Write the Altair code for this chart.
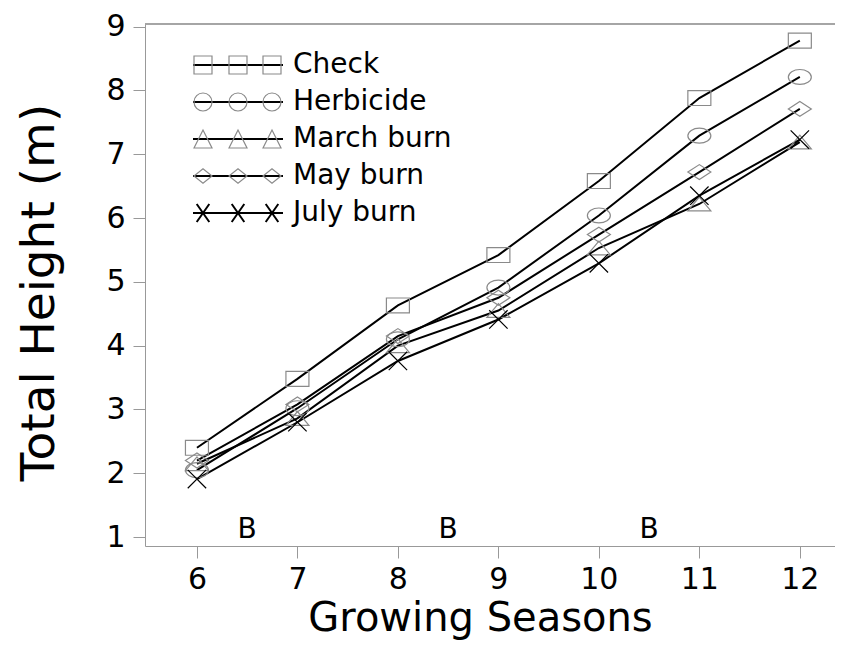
import altair as alt
import pandas as pd

# ---- data ----
seasons = [6, 7, 8, 9, 10, 11, 12]
series_names = ["Check", "Herbicide", "March burn", "May burn", "July burn"]
check = [2.40, 3.48, 4.63, 5.42, 6.58, 7.88, 8.78]
herbicide = [2.05, 3.02, 4.10, 4.91, 6.04, 7.29, 8.21]
march_burn = [2.15, 2.86, 4.00, 4.55, 5.53, 6.22, 7.19]
may_burn = [2.20, 3.08, 4.15, 4.75, 5.74, 6.72, 7.71]
july_burn = [1.91, 2.80, 3.76, 4.41, 5.29, 6.35, 7.23]
b_x = [6.5, 8.5, 10.5]
b_y = [1.11, 1.11, 1.11]
b_labels = ["B", "B", "B"]
y_ticks = [1, 1.5, 2, 2.5, 3, 3.5, 4, 4.5, 5, 5.5, 6, 6.5, 7, 7.5, 8, 8.5, 9]

values = [check, herbicide, march_burn, may_burn, july_burn]
rows = []
for name, vals in zip(series_names, values):
    for s, v in zip(seasons, vals):
        rows.append({"season": s, "height": v, "series": name})
df = pd.DataFrame(rows)
df_b = pd.DataFrame({"x": b_x, "y": b_y, "label": b_labels})

# ---- styling ----
FONT = "DejaVu Sans"
W, H = 690, 522
GREY = "#8a8a8a"

plot_shapes = [
    "M-1,-0.65L1,-0.65L1,0.65L-1,0.65Z",
    "M-1,0A1,0.65,0,1,1,1,0A1,0.65,0,1,1,-1,0Z",
    "M-1,0.6L0,-0.6L1,0.6Z",
    "M-1,0L0,-0.65L1,0L0,0.65Z",
    "M-0.8,-0.8L0.8,0.8M-0.8,0.8L0.8,-0.8",
]
legend_shapes = [
    "M-1,-1L1,-1L1,1L-1,1Z",
    "M-1,0A1,1,0,1,1,1,0A1,1,0,1,1,-1,0Z",
    "M-1,1L0,-1L1,1Z",
    "M-1,0L0,-0.8L1,0L0,0.8Z",
    "M-0.7,-1L0.7,1M-0.7,1L0.7,-1",
]
stroke_cols = [GREY, GREY, GREY, GREY, "black"]
stroke_ws = [1.2, 1.2, 1.2, 1.2, 2]

xscale = alt.Scale(domain=[5.483, 12.35], nice=False, zero=False)
yscale = alt.Scale(domain=[0.861, 9.04], nice=False, zero=False)

x_enc = alt.X(
    "season:Q", scale=xscale,
    axis=alt.Axis(values=seasons, format="d", title="Growing Seasons", tickSize=12,
                  labelPadding=6, titlePadding=4, labelFontSize=30,
                  titleFontSize=40, titleX=335),
)
y_enc = alt.Y(
    "height:Q", scale=yscale,
    axis=alt.Axis(values=y_ticks, format="d", title="Total Height (m)",
                  labelExpr="datum.value % 1 == 0 ? datum.label : ''",
                  tickSize={"condition": {"test": "datum.value % 1 != 0", "value": 8}, "value": 12},
                  labelPadding=8, titlePadding=42, labelFontSize=30,
                  titleFontSize=47, titleY=268),
)

lines = alt.Chart(df).mark_line(color="black", strokeWidth=2).encode(
    x=x_enc, y=y_enc, detail="series:N"
)

points = alt.Chart(df).mark_point(filled=False, size=529, opacity=1).encode(
    x=alt.X("season:Q", scale=xscale),
    y=alt.Y("height:Q", scale=yscale),
    shape=alt.Shape("series:N", scale=alt.Scale(domain=series_names, range=plot_shapes), legend=None),
    stroke=alt.Stroke("series:N", scale=alt.Scale(domain=series_names, range=stroke_cols), legend=None),
    strokeWidth=alt.StrokeWidth("series:N", scale=alt.Scale(domain=series_names, range=stroke_ws), legend=None),
)

b_text = alt.Chart(df_b).mark_text(fontSize=28, font=FONT, baseline="middle").encode(
    x=alt.X("x:Q", scale=xscale), y=alt.Y("y:Q", scale=yscale), text="label:N"
)

top_rule = alt.Chart(df_b).mark_rule(color="#999", strokeWidth=1).encode(
    x=alt.value(0), x2=alt.value(W), y=alt.value(0)
)

# ---- custom legend (layout in pixels) ----
LEG_Y0, LEG_DY = 41, 37
leg_rows = []
leg_mark_rows = []
for i, name in enumerate(series_names):
    ly = LEG_Y0 + LEG_DY * i
    leg_rows.append({"series": name, "ly": ly, "lx1": 48, "lx2": 138, "tx": 148})
    for mx in (58, 93, 127):
        leg_mark_rows.append({"series": name, "ly": ly, "lx": mx,
                              "lshape": legend_shapes[i], "lstroke": stroke_cols[i],
                              "lsw": stroke_ws[i]})
df_leg = pd.DataFrame(leg_rows)
df_legm = pd.DataFrame(leg_mark_rows)

leg_lines = alt.Chart(df_leg).mark_rule(color="black", strokeWidth=2).encode(
    x=alt.X("lx1:Q", scale=None), x2="lx2:Q", y=alt.Y("ly:Q", scale=None)
)
leg_marks = alt.Chart(df_legm).mark_point(filled=False, size=324, opacity=1).encode(
    x=alt.X("lx:Q", scale=None), y=alt.Y("ly:Q", scale=None),
    shape=alt.Shape("lshape:N", scale=None),
    stroke=alt.Stroke("lstroke:N", scale=None),
    strokeWidth=alt.StrokeWidth("lsw:Q", scale=None),
)
leg_text = alt.Chart(df_leg).mark_text(align="left", baseline="middle", fontSize=28, font=FONT).encode(
    x=alt.X("tx:Q", scale=None), y=alt.Y("ly:Q", scale=None), text="series:N"
)

chart = alt.layer(
    lines, points, b_text, top_rule, leg_lines, leg_marks, leg_text
).resolve_scale(
    shape="independent", stroke="independent", strokeWidth="independent"
).properties(
    width=W, height=H,
    autosize=alt.AutoSizeParams(type="none"),
    padding={"left": 137, "top": 16, "right": 0, "bottom": 98},
    background="white",
).configure_view(stroke=None).configure_axis(
    grid=False, domainColor="#999", tickColor="#999", labelColor="black",
    titleColor="black", labelFont=FONT, titleFont=FONT, titleFontWeight="normal",
    domainWidth=1, tickWidth=1,
)

chart.save("out.html", embed_options={"renderer": "svg", "actions": False})
